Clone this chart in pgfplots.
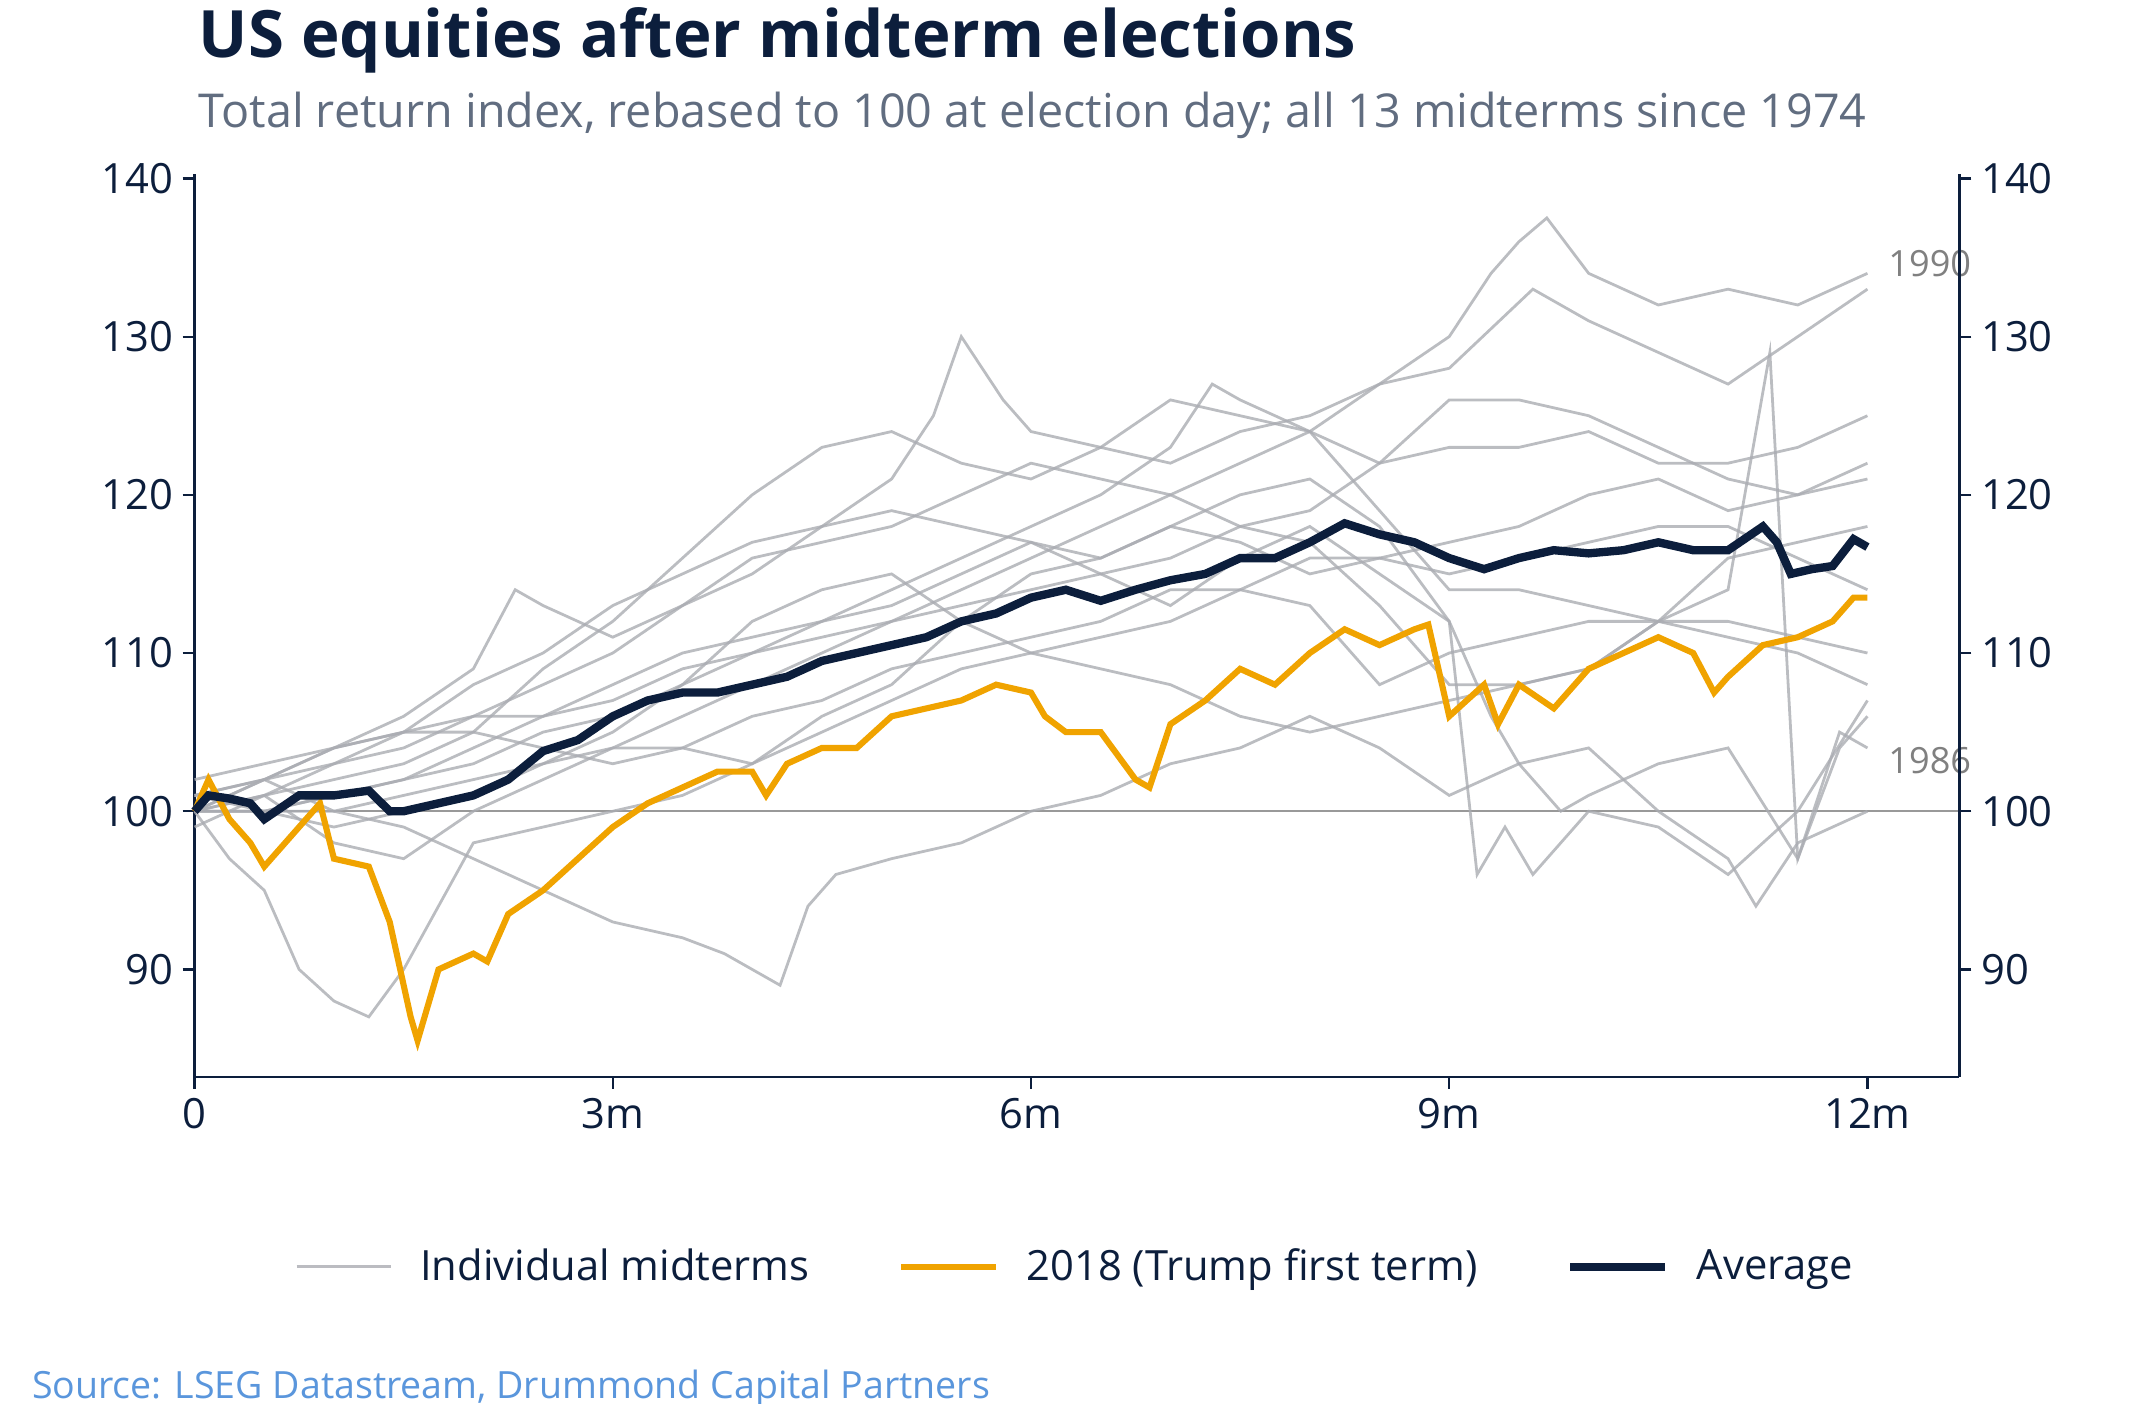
\documentclass[border=0pt]{standalone}
\usepackage{pgfplots}
\pgfplotsset{compat=1.18}
\usepackage{fontspec}
\setmainfont{Open Sans}
\definecolor{navy}{RGB}{12,30,60}
\definecolor{org}{RGB}{240,163,0}
\definecolor{gl}{RGB}{170,172,178}
\definecolor{src}{RGB}{90,150,220}
\begin{document}
\begin{tikzpicture}
\useasboundingbox (-70pt,-117.5pt) rectangle (705pt,387.5pt);
\begin{axis}[at={(0,0)},anchor=south west,scale only axis,width=635pt,height=325pt,
 xmin=0,xmax=12.66,ymin=83.2,ymax=140.3,clip=false,
 axis line style={navy,line width=1pt},
 xtick={0,3,6,9,12},xticklabels={0,3m,6m,9m,12m},
 ytick={90,100,110,120,130,140},
 tick align=outside,tick style={navy,line width=0.8pt},
 axis y line*=left,axis x line*=bottom,
 ticklabel style={font=\fontsize{15}{18}\selectfont,text=navy},
 /pgf/number format/assume math mode=true,
 legend style={at={(0.5,-0.21)},anchor=center,draw=none,legend columns=3,
   font=\fontsize{15}{18}\selectfont,text=navy,/tikz/every odd column/.append style={column sep=8pt},/tikz/every even column/.append style={column sep=30pt}},
 legend image code/.code={\draw[#1] (0pt,0pt) -- (34pt,0pt);},
]
\addplot[gray!80,line width=0.6pt,forget plot] coordinates {(0,100)(12.66,100)};
\tikzset{gr/.style={gl,opacity=0.8,line width=1pt}}
\addplot[gr] coordinates {(0,100)(0.5,101)(1,98)(1.5,97)(2,100)(2.5,102)(3,104)(3.5,106)(4,108)(4.5,110)(5,112)(5.5,114)(6,116)(6.5,118)(7,120)(7.5,122)(8,124)(8.5,127)(9,130)(9.3,134)(9.5,136)(9.7,137.5)(10,134)(10.5,132)(11,133)(11.5,132)(12,134)};
\addlegendentry{Individual midterms}
\addplot[gr,forget plot] coordinates {(0,101)(0.5,102)(1,103)(1.5,104)(2,106)(2.5,108)(3,110)(3.5,113)(4,115)(4.5,118)(5,121)(5.3,125)(5.5,130)(5.8,126)(6,124)(6.5,123)(7,122)(7.5,124)(8,125)(8.5,127)(9,128)(9.6,133)(10,131)(10.5,129)(11,127)(11.5,130)(12,133)};
\addplot[gr,forget plot] coordinates {(0,100)(0.5,101)(1,102)(1.5,103)(2,105)(2.5,109)(3,112)(3.5,116)(4,120)(4.5,123)(5,124)(5.5,122)(6,121)(6.5,123)(7,126)(7.5,125)(8,124)(8.5,122)(9,123)(9.5,123)(10,124)(10.5,122)(11,122)(11.5,123)(12,125)};
\addplot[gr,forget plot] coordinates {(0,99)(0.5,101)(1,103)(1.5,105)(2,108)(2.5,110)(3,113)(3.5,115)(4,117)(4.5,118)(5,119)(5.5,118)(6,117)(6.5,116)(7,118)(7.5,117)(8,115)(8.5,116)(9,117)(9.5,118)(10,120)(10.5,121)(11,119)(11.5,120)(12,122)};
\addplot[gr,forget plot] coordinates {(0,100)(0.5,102)(1,104)(1.5,105)(2,106)(2.5,106)(3,107)(3.5,109)(4,110)(4.5,112)(5,113)(5.5,115)(6,117)(6.5,115)(7,113)(7.5,116)(8,118)(8.5,115)(9,112)(9.3,106)(9.5,103)(9.8,100)(10,101)(10.5,103)(11,104)(11.5,97)(11.8,105)(12,104)};
\addplot[gr,forget plot] coordinates {(0,100)(0.25,97)(0.5,95)(0.75,90)(1,88)(1.25,87)(1.5,90)(1.75,94)(2,98)(2.5,99)(3,100)(3.5,101)(4,103)(4.5,106)(5,108)(5.5,112)(6,115)(6.5,116)(7,118)(7.5,120)(8,121)(8.5,118)(9,112)(9.2,96)(9.4,99)(9.6,96)(10,100)(10.5,99)(11,96)(11.5,100)(12,107)};
\addplot[gr,forget plot] coordinates {(0,101)(0.5,102)(1,100)(1.5,99)(2,97)(2.5,95)(3,93)(3.5,92)(3.8,91)(4,90)(4.2,89)(4.4,94)(4.6,96)(5,97)(5.5,98)(6,100)(6.5,101)(7,103)(7.5,104)(8,106)(8.5,104)(9,101)(9.5,103)(10,104)(10.5,100)(11,97)(11.2,94)(11.5,98)(12,100)};
\addplot[gr,forget plot] coordinates {(0,100)(0.5,100)(1,101)(1.5,102)(2,104)(2.5,106)(3,108)(3.5,110)(4,111)(4.5,112)(5,114)(5.5,116)(6,118)(6.5,120)(7,123)(7.3,127)(7.5,126)(8,124)(8.5,119)(9,114)(9.5,114)(10,113)(10.5,112)(11,112)(11.5,111)(12,110)};
\addplot[gr,forget plot] coordinates {(0,102)(0.5,103)(1,104)(1.5,105)(2,105)(2.5,104)(3,103)(3.5,104)(4,106)(4.5,107)(5,109)(5.5,110)(6,111)(6.5,112)(7,114)(7.5,114)(8,113)(8.5,108)(9,110)(9.5,111)(10,112)(10.5,112)(11,111)(11.5,110)(12,108)};
\addplot[gr,forget plot] coordinates {(0,100)(0.5,100)(1,101)(1.5,102)(2,103)(2.5,105)(3,106)(3.5,108)(4,110)(4.5,111)(5,112)(5.5,113)(6,114)(6.5,115)(7,116)(7.5,118)(8,119)(8.5,122)(9,126)(9.5,126)(10,125)(10.5,123)(11,121)(11.5,120)(12,121)};
\addplot[gr,forget plot] coordinates {(0,100)(0.5,100)(1,100)(1.5,101)(2,102)(2.5,103)(3,104)(3.5,104)(4,103)(4.5,105)(5,107)(5.5,109)(6,110)(6.5,109)(7,108)(7.5,106)(8,105)(8.5,106)(9,107)(9.5,108)(10,109)(10.5,112)(11,114)(11.3,129)(11.5,97)(11.8,104)(12,106)};
\addplot[gr,forget plot] coordinates {(0,100)(0.5,102)(1,104)(1.5,106)(2,109)(2.3,114)(2.5,113)(3,111)(3.5,113)(4,116)(4.5,117)(5,118)(5.5,120)(6,122)(6.5,121)(7,120)(7.5,118)(8,117)(8.5,113)(9,108)(9.5,108)(10,109)(10.5,112)(11,116)(11.5,117)(12,118)};
\addplot[gr,forget plot] coordinates {(0,101)(0.5,100)(1,99)(1.5,100)(2,101)(2.5,103)(3,105)(3.5,108)(4,112)(4.5,114)(5,115)(5.5,112)(6,110)(6.5,111)(7,112)(7.5,114)(8,116)(8.5,116)(9,115)(9.5,116)(10,117)(10.5,118)(11,118)(11.5,116)(12,114)};
\addplot[org,line width=2.2pt] coordinates {(0,100)(0.1,102)(0.25,99.5)(0.4,98)(0.5,96.5)(0.75,99)(0.9,100.5)(1,97)(1.25,96.5)(1.4,93)(1.55,87)(1.6,85.5)(1.75,90)(2,91)(2.1,90.5)(2.25,93.5)(2.5,95)(2.75,97)(3,99)(3.25,100.5)(3.5,101.5)(3.75,102.5)(4,102.5)(4.1,101)(4.25,103)(4.5,104)(4.75,104)(5,106)(5.25,106.5)(5.5,107)(5.75,108)(6,107.5)(6.1,106)(6.25,105)(6.5,105)(6.75,102)(6.85,101.5)(7,105.5)(7.25,107)(7.5,109)(7.75,108)(8,110)(8.25,111.5)(8.5,110.5)(8.75,111.5)(8.85,111.8)(9,106)(9.25,108)(9.35,105.5)(9.5,108)(9.75,106.5)(10,109)(10.25,110)(10.5,111)(10.75,110)(10.9,107.5)(11,108.5)(11.25,110.5)(11.5,111)(11.75,112)(11.9,113.5)(12,113.5)};
\addlegendentry{2018 (Trump first term)}
\addplot[navy,line width=3pt] coordinates {(0,100)(0.1,101)(0.25,100.8)(0.4,100.5)(0.5,99.5)(0.75,101)(1,101)(1.25,101.3)(1.4,100)(1.5,100)(1.75,100.5)(2,101)(2.25,102)(2.5,103.8)(2.75,104.5)(3,106)(3.25,107)(3.5,107.5)(3.75,107.5)(4,108)(4.25,108.5)(4.5,109.5)(4.75,110)(5,110.5)(5.25,111)(5.5,112)(5.75,112.5)(6,113.5)(6.25,114)(6.5,113.3)(6.75,114)(7,114.6)(7.25,115)(7.5,116)(7.75,116)(8,117)(8.25,118.2)(8.5,117.5)(8.75,117)(9,116)(9.25,115.3)(9.5,116)(9.75,116.5)(10,116.3)(10.25,116.5)(10.5,117)(10.75,116.5)(11,116.5)(11.25,118)(11.35,117)(11.45,115)(11.6,115.3)(11.75,115.5)(11.9,117.2)(12,116.7)};
\addlegendentry{Average}
\node[gray,anchor=west,font=\fontsize{13}{15}\selectfont] at (axis cs:12.08,134.6) {1990};
\node[gray,anchor=west,font=\fontsize{13}{15}\selectfont] at (axis cs:12.08,103.2) {1986};
\end{axis}
\begin{axis}[at={(0,0)},anchor=south west,scale only axis,width=635pt,height=325pt,
 xmin=0,xmax=12.66,ymin=83.2,ymax=140.3,axis y line*=right,axis x line=none,
 axis line style={navy,line width=1pt},ytick={90,100,110,120,130,140},
 tick align=outside,tick style={navy,line width=0.8pt},
 ticklabel style={font=\fontsize{15}{18}\selectfont,text=navy},
 /pgf/number format/assume math mode=true]
\addplot[draw=none] coordinates {(0,100)};
\end{axis}
\node[anchor=west,text=navy,font=\fontsize{23.5}{28}\bfseries] at (-2pt,373pt) {US equities after midterm elections};
\node[anchor=west,text=navy!65!white,font=\fontsize{16.8}{20}\selectfont] at (-2pt,346pt) {Total return index, rebased to 100 at election day; all 13 midterms since 1974};
\node[anchor=west,text=src,font=\fontsize{13.5}{16}\selectfont] at (-62pt,-112pt) {Source: LSEG Datastream, Drummond Capital Partners};
\end{tikzpicture}
\end{document}
